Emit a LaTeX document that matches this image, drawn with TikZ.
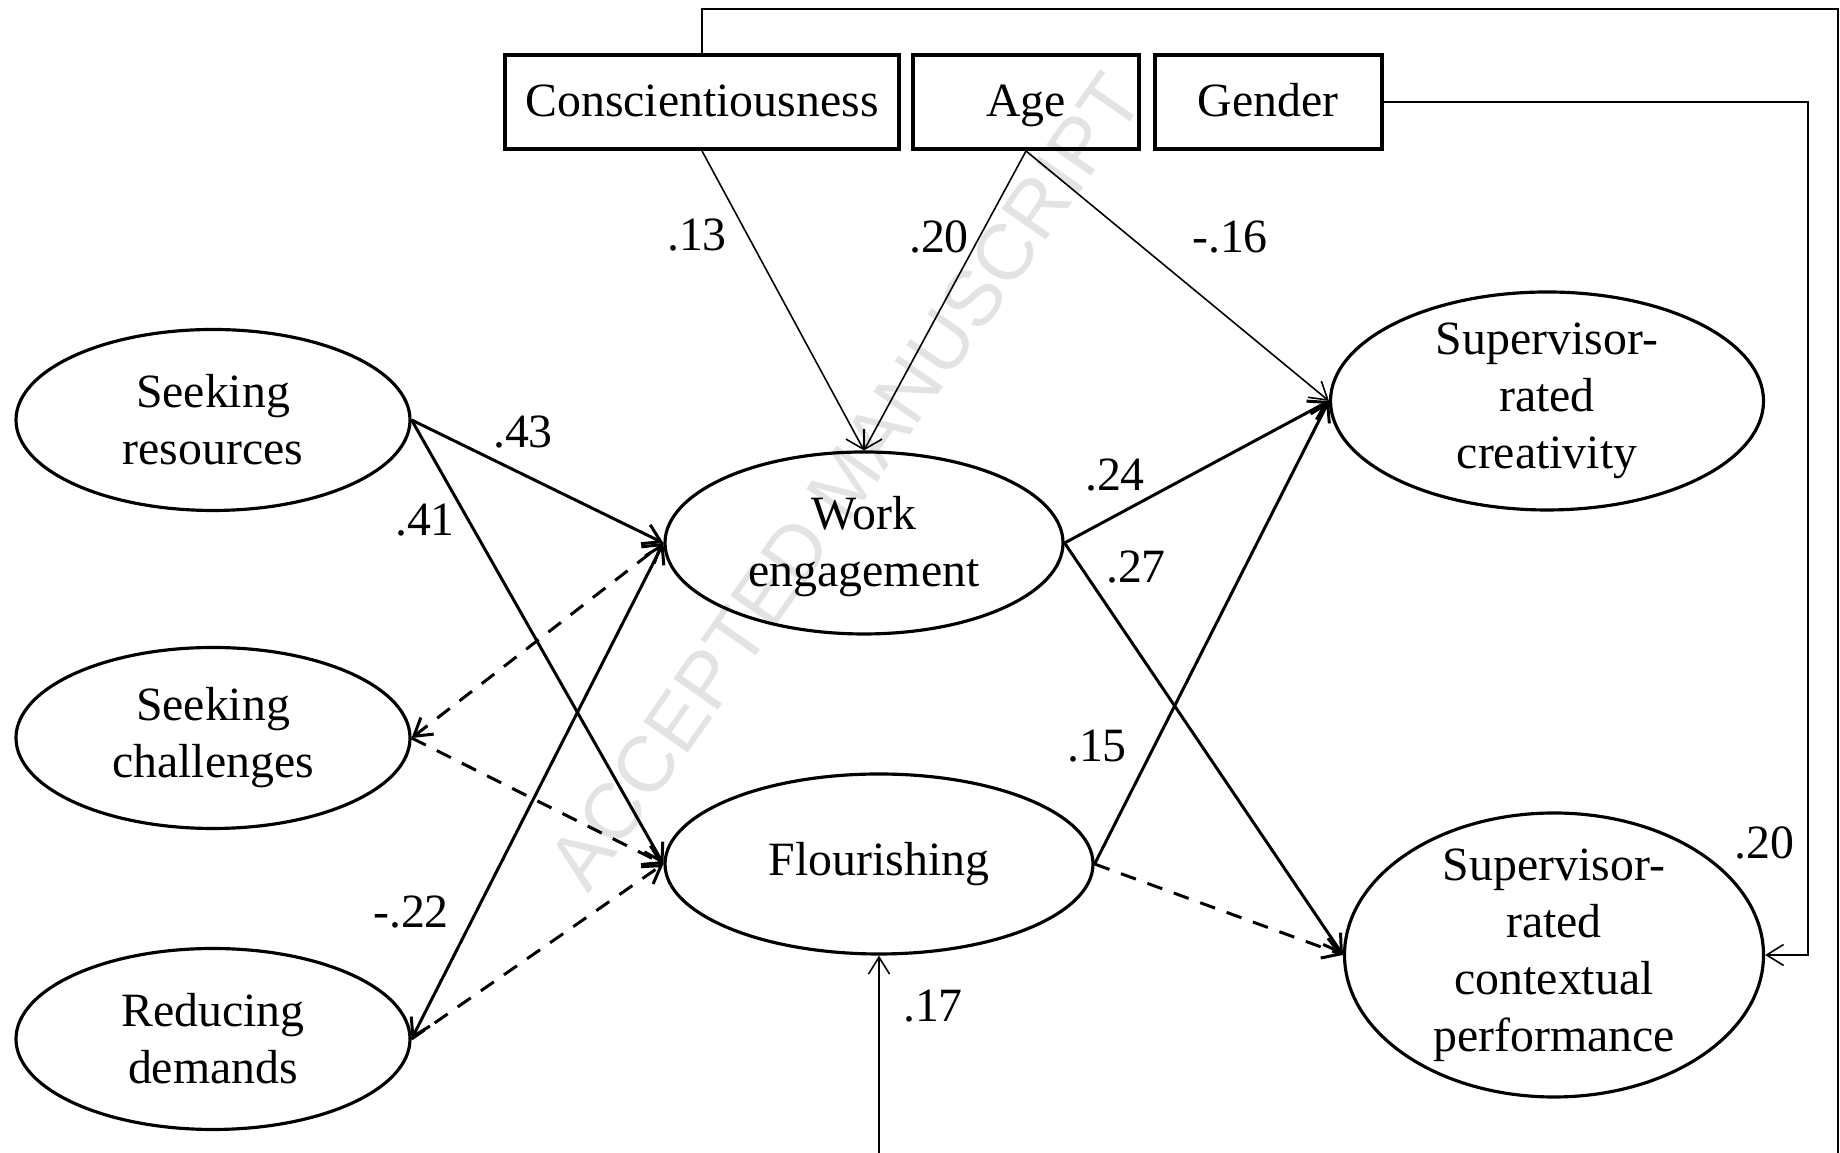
\documentclass[tikz,border=0pt]{standalone}
\usepackage{fontspec}
\setmainfont{Liberation Serif}
\newfontfamily\wmfont{Liberation Sans}
\usetikzlibrary{shapes.geometric,arrows.meta}
\tikzset{
  >={Straight Barb[length=1.7mm,width=2.1mm]},
  obsbox/.style={draw, line width=1.15pt, minimum height=0.94cm, inner sep=0pt, text height=1em, text depth=0.2em},
  latent/.style={draw, ellipse, line width=0.9pt, inner sep=0pt},
  ltext/.style={align=center, inner sep=0pt},
  sig/.style={line width=0.85pt, ->},
  nonsig/.style={sig, dash pattern=on 4.5pt off 3.5pt},
  ctrl/.style={line width=0.45pt, ->},
}
\begin{document}
\begin{tikzpicture}[font=\fontsize{13.6}{16.2}\selectfont]
\useasboundingbox (0,0) rectangle (18.4,11.53);
\clip (0,0) rectangle (18.4,11.53);
%watermark
\node[rotate=55, text=gray!22, font=\wmfont\fontsize{22.4}{24}\selectfont] (wm) at (8.45,6.72) {ACCEPTED MANUSCRIPT};

%control variables
\node[obsbox, minimum width=3.94cm] (consc) at (7.02,10.51) {Conscientiousness};
\node[obsbox, minimum width=2.26cm] (age) at (10.26,10.51) {Age};
\node[obsbox, minimum width=2.27cm] (gender) at (12.68,10.51) {Gender};
%crafting behaviours
\node[latent, minimum width=3.94cm, minimum height=1.81cm] (res) at (2.13,7.33) {};
\node[latent, minimum width=3.94cm, minimum height=1.81cm] (chal) at (2.13,4.15) {};
\node[latent, minimum width=3.94cm, minimum height=1.81cm] (dem) at (2.13,1.14) {};
%mediators
\node[latent, minimum width=3.98cm, minimum height=1.82cm] (we) at (8.64,6.10) {};
\node[latent, minimum width=4.28cm, minimum height=1.80cm] (flo) at (8.79,2.89) {};
%outcomes
\node[latent, minimum width=4.33cm, minimum height=2.18cm] (cre) at (15.47,7.52) {};
\node[latent, minimum width=4.19cm, minimum height=2.84cm] (ctx) at (15.54,1.98) {};

\node[ltext] (res-t) at (res) {Seeking\\resources};
\node[ltext] (chal-t) at (chal) {Seeking\\challenges};
\node[ltext] (dem-t) at (dem) {Reducing\\demands};
\node[ltext] (we-t) at ([yshift=-0.04cm]we) {Work\\engagement};
\node[ltext] (flo-t) at (flo) {Flourishing};
\node[ltext] (cre-t) at (cre) {Supervisor-\\rated\\creativity};
\node[ltext] (ctx-t) at (ctx) {Supervisor-\\rated\\contextual\\performance};

%corners of the outer lines
\coordinate (topright) at (18.38,11.44);
\coordinate (botright) at (18.38,-0.5);
\coordinate (gx) at (18.08,0);

%controls
\draw[ctrl] (consc.south) -- (we.north);
\draw[ctrl] (age.south) -- (we.north);
\draw[ctrl] (age.south) -- (cre.west);
\draw[ctrl] (gender.east) -| (gx |- ctx.east) -- (ctx.east);
\draw[ctrl] (consc.north) |- (topright) -- (botright) -| (flo.south);

%crafting to mediators
\draw[sig] (res.east) -- (we.west);
\draw[sig] (res.east) -- (flo.west);
\draw[nonsig, <->] (chal.east) -- (we.west);
\draw[nonsig] (chal.east) -- (flo.west);
\draw[sig, <->] (dem.east) -- (we.west);
\draw[nonsig] (dem.east) -- (flo.west);
%mediators to outcomes
\draw[sig] (we.east) -- (cre.west);
\draw[sig] (we.east) -- (ctx.west);
\draw[sig] (flo.east) -- (cre.west);
\draw[nonsig] (flo.east) -- (ctx.west);

%coefficients
\node (c13) at (6.97,9.18) {.13};
\node (c20a) at (9.39,9.16) {.20};
\node (c16) at (12.30,9.16) {-.16};
\node (c43) at (5.23,7.21) {.43};
\node (c41) at (4.25,6.33) {.41};
\node (c24) at (11.15,6.78) {.24};
\node (c27) at (11.36,5.86) {.27};
\node (c15) at (10.97,4.07) {.15};
\node (c22) at (4.11,2.41) {-.22};
\node (c17) at (9.33,1.47) {.17};
\node (c20b) at (17.64,3.10) {.20};
\end{tikzpicture}
\end{document}
